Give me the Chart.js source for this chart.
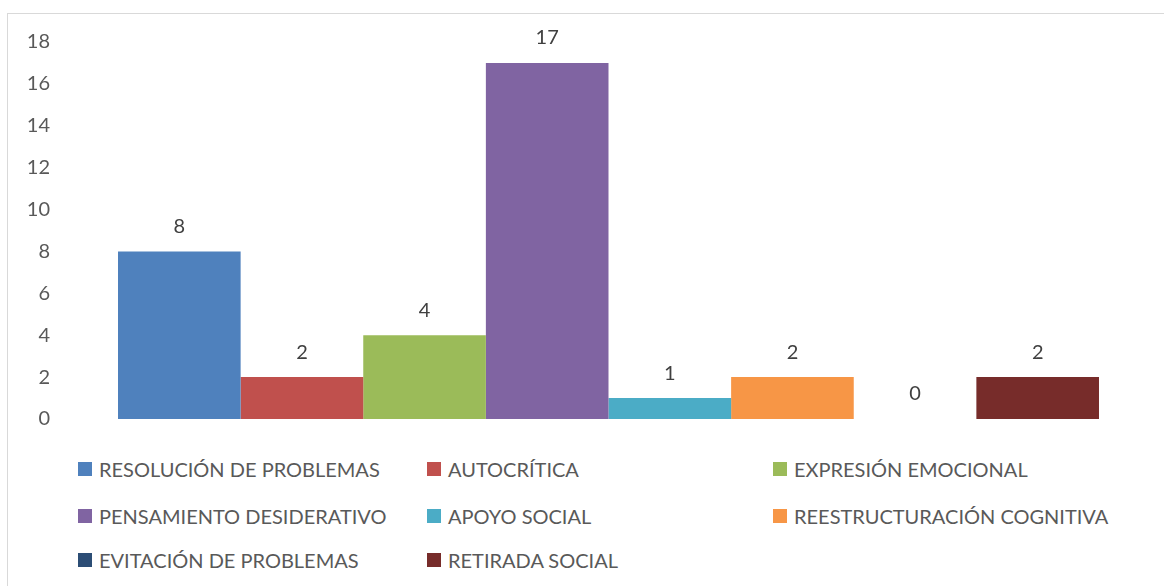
<!DOCTYPE html>
<html>
<head>
<meta charset="utf-8">
<script src="https://cdn.jsdelivr.net/npm/chart.js@4/dist/chart.umd.min.js"></script>
<style>
  body { margin: 0; background: #fff; font-family: Lato, "Open Sans", sans-serif; }
  #marco { position: absolute; left: 7px; top: 13px; width: 1170px; height: 600px; border: 1px solid #d9d9d9; }
  #lienzo { position: absolute; left: 0; top: 0; }
  #leyenda { position: absolute; left: 0; top: 0; }
  .item { position: absolute; display: flex; align-items: center; font-size: 20px; line-height: 24px; color: #595959; white-space: nowrap; }
  .caja { width: 14px; height: 14px; margin-right: 7px; }
</style>
</head>
<body>
<div id="marco"></div>
<canvas id="lienzo" width="1164" height="440"></canvas>
<div id="leyenda"></div>
<script>
// Series (una barra por estrategia)
const estrategias = ['RESOLUCIÓN DE PROBLEMAS', 'AUTOCRÍTICA', 'EXPRESIÓN EMOCIONAL', 'PENSAMIENTO DESIDERATIVO',
  'APOYO SOCIAL', 'REESTRUCTURACIÓN COGNITIVA', 'EVITACIÓN DE PROBLEMAS', 'RETIRADA SOCIAL'];
const valores = [8, 2, 4, 17, 1, 2, 0, 2];
const colores = ['#4F81BD', '#C0504D', '#9BBB59', '#8064A2', '#4BACC6', '#F79646', '#2C4D75', '#772C2A'];
const ticksY = [0, 2, 4, 6, 8, 10, 12, 14, 16, 18];

// posiciones de la leyenda (3 columnas)
const colX = [78, 427, 773];
const filaY = [469, 516, 560];

const fuente = 'Lato, "Open Sans", sans-serif';

// etiquetas encima de cada barra
const etiquetasDatos = {
    id: 'etiquetasDatos',
    afterDatasetsDraw(chart) {
        const ctx = chart.ctx;
        ctx.save();
        ctx.font = '20px ' + fuente;
        ctx.fillStyle = '#404040';
        ctx.textAlign = 'center';
        ctx.textBaseline = 'middle';
        chart.data.datasets.forEach((ds, i) => {
            const barra = chart.getDatasetMeta(i).data[0];
            ctx.fillText(String(ds.data[0]), barra.x, barra.y - 25);
        });
        ctx.restore();
    }
};

const grafico = new Chart(document.getElementById('lienzo'), {
    type: 'bar',
    data: {
        labels: [''],
        datasets: estrategias.map((nombre, i) => ({
            label: nombre,
            data: [valores[i]],
            backgroundColor: colores[i],
            borderWidth: 0,
            categoryPercentage: 0.891,
            barPercentage: 1
        }))
    },
    options: {
        responsive: false,
        animation: false,
        layout: { padding: { top: 42, right: 5, bottom: 21, left: 0 } },
        plugins: { legend: { display: false }, tooltip: { enabled: false } },
        scales: {
            x: { display: false },
            y: {
                min: 0, max: 18,
                afterFit: s => { s.width = 58; },
                afterBuildTicks: s => { s.ticks = ticksY.map(v => ({ value: v })); },
                grid: { display: false, drawTicks: false },
                border: { display: false },
                ticks: { color: '#595959', padding: 8, font: { family: fuente, size: 20 } }
            }
        }
    },
    plugins: [etiquetasDatos]
});

// leyenda en HTML, 3 columnas como en el original
const leyenda = document.getElementById('leyenda');
grafico.data.datasets.forEach((ds, i) => {
    const item = document.createElement('div');
    item.className = 'item';
    item.style.left = colX[i % 3] + 'px';
    item.style.top = (filaY[Math.floor(i / 3)] - 12) + 'px';
    item.innerHTML = '<span class="caja" style="background:' + ds.backgroundColor + '"></span>' + ds.label;
    leyenda.appendChild(item);
});
</script>
</body>
</html>
